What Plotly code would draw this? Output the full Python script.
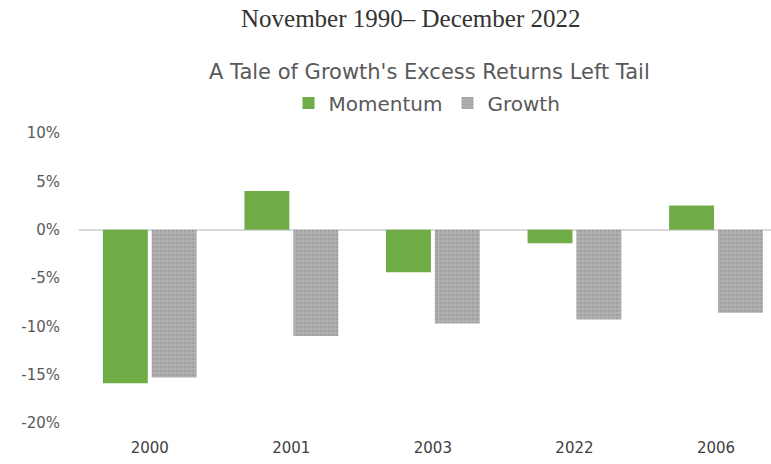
import plotly.graph_objects as go

categories = ["2000", "2001", "2003", "2022", "2006"]
momentum = [-15.9, 4.0, -4.4, -1.4, 2.5]
growth = [-15.3, -11.0, -9.7, -9.3, -8.6]
y_ticks = [-20, -15, -10, -5, 0, 5, 10]
y_tick_text = [f"{v}%" for v in y_ticks]

W, H = 771, 464
L, R, T, B = 79, 0, 133, 41
ph = H - T - B
pw = W - L - R

def py(pix):
    return (H - B - pix) / ph

def px(pix):
    return (pix - L) / pw

fig = go.Figure()
fig.add_bar(x=categories, y=momentum, name="Momentum",
            marker=dict(color="#70ad47", line=dict(width=0)))
fig.add_bar(x=categories, y=growth, name="Growth",
            marker=dict(color="#a5a5a5", line=dict(width=0),
                        pattern=dict(shape=".", fgcolor="#8f8f8f", bgcolor="#b0b0b0", size=4, solidity=0.35)))

sans = "DejaVu Sans"
fig.update_layout(
    width=W, height=H,
    margin=dict(l=L, r=R, t=T, b=B),
    paper_bgcolor="white", plot_bgcolor="white",
    barmode="group", bargap=0.31, bargroupgap=0.08,
    showlegend=True,
    legend=dict(orientation="h", x=px(427), xanchor="center", y=py(103), yanchor="middle",
                font=dict(family=sans, size=20, color="#595959"), itemwidth=30,
                traceorder="normal", bgcolor="rgba(0,0,0,0)"),
    xaxis=dict(range=[-0.5, 4 + (W - 716) / 141.5], showgrid=False, zeroline=False,
               showline=False, ticks="outside", ticklen=11, tickcolor="rgba(0,0,0,0)",
               tickfont=dict(family=sans, size=15, color="#404040")),
    yaxis=dict(range=[-20, 10], tickvals=y_ticks, ticktext=y_tick_text, showgrid=False,
               zeroline=True, zerolinecolor="#d9d9d9", zerolinewidth=1.5,
               showline=False, ticks="outside", ticklen=15, tickcolor="rgba(0,0,0,0)",
               tickfont=dict(family=sans, size=15, color="#595959")),
    annotations=[
        dict(text="November 1990– December 2022", x=px(410), y=py(18), xref="paper", yref="paper",
             xanchor="center", yanchor="middle", showarrow=False,
             font=dict(family="Liberation Serif", size=25, color="#333333")),
        dict(text="A Tale of Growth's Excess Returns Left Tail", x=px(429), y=py(72),
             xref="paper", yref="paper", xanchor="center", yanchor="middle", showarrow=False,
             font=dict(family=sans, size=21, color="#595959")),
    ],
)

fig.write_html("out.html", config={"displayModeBar": False},
               post_script="document.body.style.margin='0';document.body.style.padding='0';")
